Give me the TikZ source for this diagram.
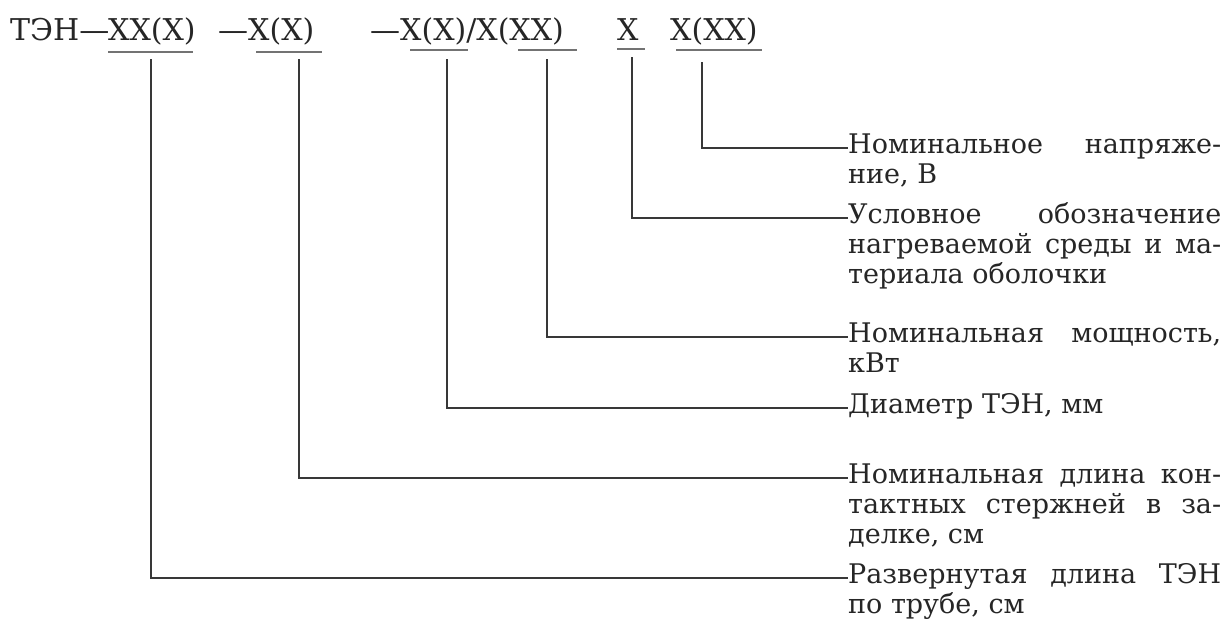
\documentclass[tikz,border=0pt]{standalone}
\usepackage{fontspec}
\setmainfont{DejaVu Serif}
\newlength\labw
\setlength\labw{373pt}
\newcommand\jline[1]{\makebox[\labw][s]{#1}}
\tikzset{
  lead/.style={draw=black!78, line width=1.7pt},
  uline/.style={draw=black!55, line width=1.4pt},
  head/.style={inner sep=0pt, anchor=base west, text=black!85,
    font=\fontsize{30}{30}\selectfont},
  lab/.style={inner sep=0pt, anchor=base west, text=black!85,
    font=\fontsize{27}{30}\selectfont},
}
\begin{document}
\begin{tikzpicture}[x=1pt,y=-1pt]
\useasboundingbox[fill=white] (0,0) rectangle (1227,619);

% header
\node[head] (h1) at (10,40) {ТЭН—};
\node[head] (h2) at (108,40) {ХХ(Х)};
\node[head] (h3) at (218,40) {—Х(Х)};
\node[head] (h4) at (370,40) {—Х(Х)/Х(ХХ)};
\node[head] (h5) at (617,40) {Х};
\node[head] (h6) at (670,40) {Х(ХХ)};

% underlines
\draw[uline] (108,52) -- (193,52);
\draw[uline] (256,52) -- (322,52);
\draw[uline] (410,50) -- (468,50);
\draw[uline] (518,50) -- (577,50);
\draw[uline] (617,49) -- (645,49);
\draw[uline] (676,50) -- (762,50);

% start points of the leaders
\coordinate (s1) at (151,59);
\coordinate (s2) at (299,59);
\coordinate (s3) at (447,59);
\coordinate (s4) at (547,59);
\coordinate (s5) at (632,57);
\coordinate (s6) at (702,62);

% labels
\node[lab] (l6) at (848,153) {\parbox[t]{\labw}{\jline{Номинальное напряже-}\\ние, В}};
\node[lab] (l5) at (848,223) {\parbox[t]{\labw}{\jline{Условное обозначение}\\\jline{нагреваемой среды и ма-}\\териала оболочки}};
\node[lab] (l4) at (848,342) {\parbox[t]{\labw}{\jline{Номинальная мощность,}\\кВт}};
\node[lab] (l3) at (848,413) {\parbox[t]{\labw}{Диаметр ТЭН, мм}};
\node[lab] (l2) at (848,483) {\parbox[t]{\labw}{\jline{Номинальная длина кон-}\\\jline{тактных стержней в за-}\\делке, см}};
\node[lab] (l1) at (848,583) {\parbox[t]{\labw}{\jline{Развернутая длина ТЭН}\\по трубе, см}};

% leaders
\draw[lead] (s6) |- ([yshift=5pt]l6.base west);
\draw[lead] (s5) |- ([yshift=5pt]l5.base west);
\draw[lead] (s4) |- ([yshift=5pt]l4.base west);
\draw[lead] (s3) |- ([yshift=5pt]l3.base west);
\draw[lead] (s2) |- ([yshift=5pt]l2.base west);
\draw[lead] (s1) |- ([yshift=5pt]l1.base west);
\end{tikzpicture}
\end{document}
